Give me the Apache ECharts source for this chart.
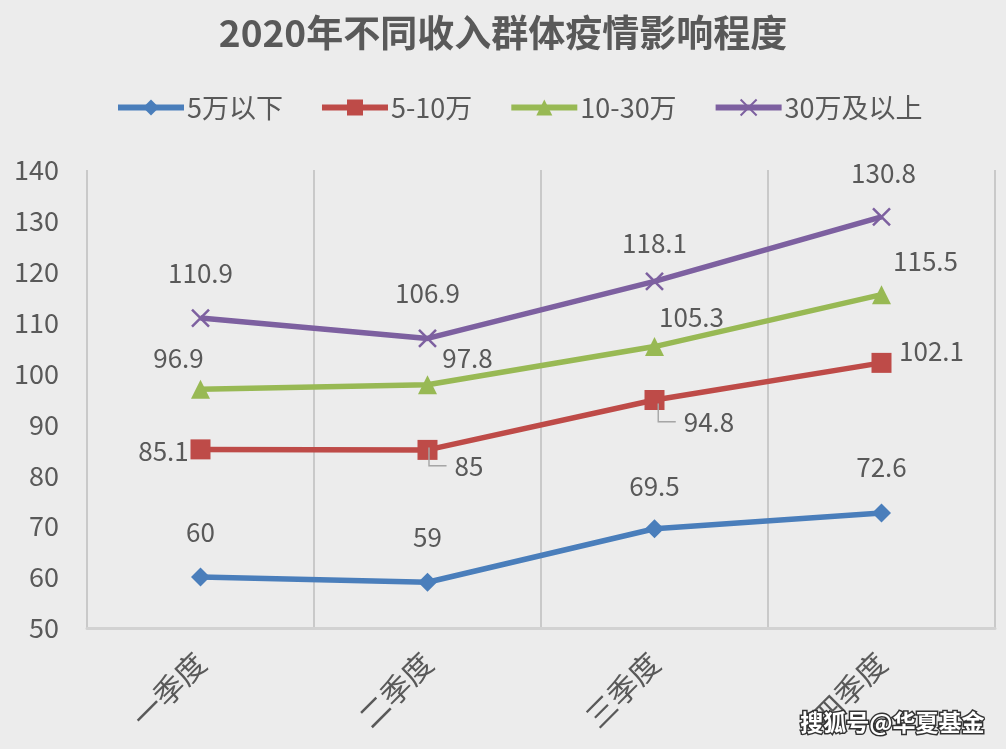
<!DOCTYPE html>
<html>
<head>
<meta charset="utf-8">
<script src="https://cdn.jsdelivr.net/npm/echarts@6/dist/echarts.min.js"></script>
<style>
html,body{margin:0;padding:0;background:#ececec;}
#c{width:1006px;height:749px;}
</style>
</head>
<body>
<div id="c"></div>
<script>
const titleText = '2020年不同收入群体疫情影响程度';
const categories = ['一季度', '二季度', '三季度', '四季度'];
const seriesNames = ['5万以下', '5-10万', '10-30万', '30万及以上'];
const s1 = [60, 59, 69.5, 72.6];
const s2 = [85.1, 85, 94.8, 102.1];
const s3 = [96.9, 97.8, 105.3, 115.5];
const s4 = [110.9, 106.9, 118.1, 130.8];
const yTicks = {min: 50, max: 140, interval: 10};
const watermark = '搜狐号@华夏基金';

// label offsets (styling, pixel positions relative to markers)
const off1 = [[0,-45],[0,-45],[0,-43],[0,-46]];
const off2 = [[-37,2],[20,16],[33,22],[50,-12]];
const off3 = [[-22,-31],[40,-27],[37,-29],[44,-34]];
const off4 = [[0,-45],[0,-45],[0,-38],[2,-44]];
const leader2 = [false, true, true, false];

const colors = ['#4a7ebb', '#be4b48', '#98b954', '#7d60a0'];
const FONT = '"Noto Sans CJK SC", "Noto Sans", sans-serif';
const TXT = '#595959';

function mk(vals, offs, leaders) {
  return vals.map((v, i) => {
    const d = {value: v, label: {offset: offs[i]}};
    if (leaders && leaders[i]) {
      d.label.formatter = '{l|└}{v|{c}}';
    }
    return d;
  });
}

const symbols = ['diamond', 'rect', 'triangle', 'path://M0,0L10,10M10,0L0,10'];
const symSizes = [19, 20, 19, 17];
const datas = [mk(s1, off1), mk(s2, off2, leader2), mk(s3, off3), mk(s4, off4)];

const series = seriesNames.map((n, k) => ({
  name: n,
  type: 'line',
  data: datas[k],
  symbol: symbols[k],
  symbolSize: symSizes[k],
  showAllSymbol: true,
  lineStyle: {width: 5.5, color: colors[k]},
  itemStyle: k === 3
    ? {color: colors[k], borderColor: colors[k], borderWidth: 2.5}
    : {color: colors[k], borderWidth: 0},
  emphasis: {disabled: true},
  label: {
    show: true,
    position: 'inside',
    color: TXT,
    fontSize: 26,
    fontFamily: FONT,
    rich: {
      l: {fontSize: 35, lineHeight: 35, color: '#a6a6a6', fontFamily: '"Noto Sans CJK SC"', padding: [0, 8, 0, 0]},
      v: {fontSize: 26, lineHeight: 35, color: TXT, fontFamily: FONT, verticalAlign: 'middle'}
    }
  },
  z: 2 + k
}));

const chart = echarts.init(document.getElementById('c'), null, {renderer: 'canvas'});
chart.setOption({
  backgroundColor: '#ececec',
  animation: false,
  textStyle: {fontFamily: FONT},
  title: {
    text: titleText,
    left: 'center',
    top: 9,
    textStyle: {fontSize: 37, fontWeight: 'bold', color: TXT, fontFamily: FONT}
  },
  legend: {
    data: seriesNames,
    top: 89,
    left: 110,
    itemWidth: 66,
    itemHeight: 20,
    itemGap: 36,
    lineStyle: {width: 6},
    textStyle: {fontSize: 27, color: TXT, fontFamily: FONT, padding: [0,0,0,-2]}
  },
  grid: {left: 87, right: 11, top: 170, bottom: 121, containLabel: false},
  xAxis: {
    type: 'category',
    data: categories,
    boundaryGap: true,
    axisLine: {show: true, lineStyle: {color: '#d2d2d2', width: 3}},
    axisTick: {show: false},
    splitLine: {show: true, lineStyle: {color: '#c9c9c9', width: 2}},
    axisLabel: {rotate: 45, margin: 30, fontSize: 30, color: TXT, fontFamily: FONT}
  },
  yAxis: {
    type: 'value',
    min: yTicks.min,
    max: yTicks.max,
    interval: yTicks.interval,
    axisLine: {show: false},
    axisTick: {show: false},
    splitLine: {show: false},
    axisLabel: {margin: 28, fontSize: 27, color: TXT, fontFamily: FONT}
  },
  graphic: [{
    type: 'text',
    right: 20,
    bottom: 14,
    style: {
      text: watermark,
      fill: '#ffffff',
      stroke: '#333333',
      lineWidth: 3,
      font: 'bold 23px ' + FONT
    },
    z: 100
  }],
  series: series
});
</script>
</body>
</html>
